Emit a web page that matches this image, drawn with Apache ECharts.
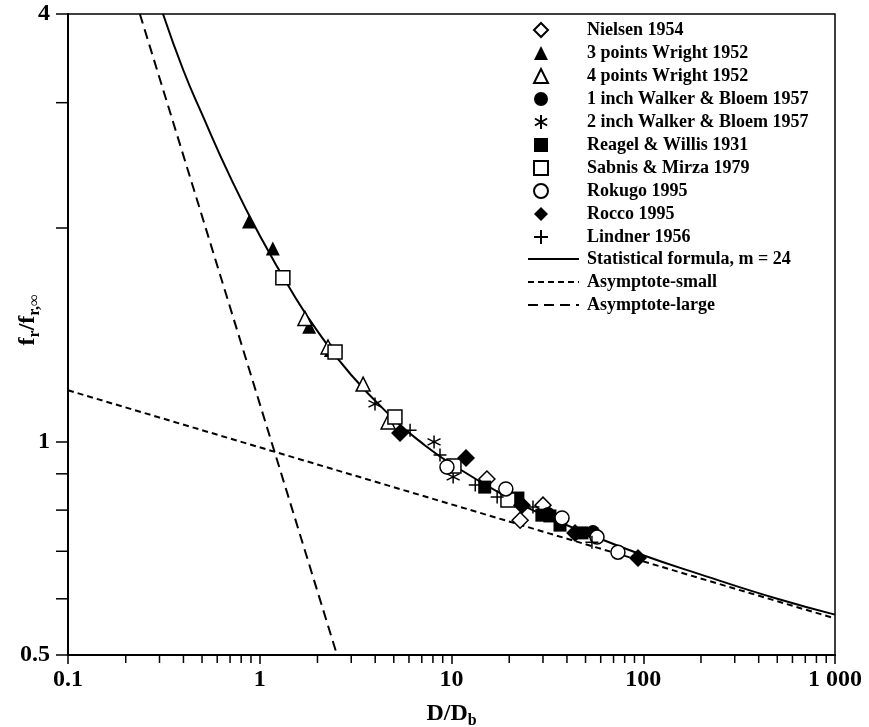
<!DOCTYPE html>
<html><head><meta charset="utf-8">
<script src="https://cdn.jsdelivr.net/npm/echarts@6/dist/echarts.min.js"></script>
<style>html,body{margin:0;padding:0;background:#fff}#c{width:869px;height:727px}</style>
</head><body><div id="c"></div>
<script>
// ---- data (D/Db, fr/fr,inf) ----
const nielsenD = [15.3, 22.8, 30.0];
const nielsenF = [0.885, 0.774, 0.813];
const wright3D = [0.879, 1.17, 1.81, 2.35];
const wright3F = [2.04, 1.87, 1.45, 1.345];
const wright4D = [1.72, 2.27, 3.46, 4.67];
const wright4F = [1.49, 1.358, 1.204, 1.065];
const walker1D = [31.9, 54.7];
const walker1F = [0.790, 0.745];
const walker2D = [3.99, 8.11, 10.2];
const walker2F = [1.129, 0.998, 0.891];
const reagelD = [14.9, 22.2, 29.6, 32.6, 36.8, 47.9];
const reagelF = [0.862, 0.832, 0.787, 0.785, 0.762, 0.743];
const sabnisD = [1.32, 2.47, 5.07, 10.3, 19.7];
const sabnisF = [1.70, 1.336, 1.082, 0.923, 0.827];
const rokugoD = [9.47, 19.2, 37.7, 57.4, 73.8];
const rokugoF = [0.920, 0.857, 0.780, 0.733, 0.698];
const roccoD = [5.39, 11.9, 23.3, 44.1, 93.9];
const roccoF = [1.027, 0.947, 0.813, 0.743, 0.685];
const lindnerD = [6.08, 8.71, 13.3, 17.3, 26.6, 54.0];
const lindnerF = [1.037, 0.957, 0.868, 0.835, 0.808, 0.721];

const statD = [0.313, 0.4, 0.5, 0.7, 1, 1.5, 2, 3, 5, 7, 10, 20, 30, 50, 100, 200, 500, 1000];
const statF = [4.0, 3.33, 2.89, 2.36, 1.95, 1.61, 1.43, 1.24, 1.075, 0.995, 0.929, 0.831, 0.788, 0.743, 0.691, 0.649, 0.600, 0.570];
const asymSmallD = [0.1, 1000];
const asymSmallF = [1.18, 0.563];
const asymLargeD = [0.237, 2.53];
const asymLargeF = [4.0, 0.5];

const xTickLabels = ['0.1', '1', '10', '100', '1 000'];
const yTickValues = [0.5, 1, 2, 4];
const yTickLabels = ['0.5', '1', '', '4'];
const xMinorTicks = [0.2,0.3,0.4,0.5,0.6,0.7,0.8,0.9, 2,3,4,5,6,7,8,9, 20,30,40,50,60,70,80,90, 200,300,400,500,600,700,800,900];
const yMinorTicks = [0.6, 0.7, 0.8, 0.9, 3];

const names = ['Nielsen 1954','3 points Wright 1952','4 points Wright 1952','1 inch Walker & Bloem 1957','2 inch Walker & Bloem 1957','Reagel & Willis 1931','Sabnis & Mirza 1979','Rokugo 1995','Rocco 1995','Lindner 1956'];
const lineNames = ['Statistical formula, m = 24','Asymptote-small','Asymptote-large'];

// ---- build ----
const FONT = "'Liberation Serif','Times New Roman',serif";
const pts = (d, f) => d.map((v, i) => [v, f[i]]);
const filled = {color:'#000', borderWidth:0, opacity:1};
const open = {color:'#fff', borderColor:'#000', borderWidth:1.5, opacity:1};
const stroke = {color:'#000', borderColor:'#000', borderWidth:1.5, opacity:1};
const ASTER = 'path://M5,0L5,10M0.67,2.5L9.33,7.5M0.67,7.5L9.33,2.5';
const PLUS = 'path://M5,0L5,10M0,5L10,5';

function sc(name, d, f, symbol, size, style) {
  return {type:'scatter', name, data: pts(d, f), symbol, symbolSize: size, itemStyle: style, z: 5, silent: true};
}

const series = [
  {type:'line', name: lineNames[0], data: pts(statD, statF), smooth: true, symbol:'none', showSymbol:false,
   lineStyle:{color:'#000', width:2, type:'solid'}, itemStyle:{color:'#000'}, z:3, silent:true},
  {type:'line', name: lineNames[1], data: pts(asymSmallD, asymSmallF), symbol:'none', showSymbol:false,
   lineStyle:{color:'#000', width:2, type:[6,4]}, itemStyle:{color:'#000'}, z:3, silent:true},
  {type:'line', name: lineNames[2], data: pts(asymLargeD, asymLargeF), symbol:'none', showSymbol:false,
   lineStyle:{color:'#000', width:2, type:[10,6]}, itemStyle:{color:'#000'}, z:3, silent:true},
  sc(names[0], nielsenD, nielsenF, 'diamond', 16, open),
  sc(names[1], wright3D, wright3F, 'triangle', 14, filled),
  sc(names[2], wright4D, wright4F, 'triangle', 14, open),
  sc(names[3], walker1D, walker1F, 'circle', 14, filled),
  sc(names[4], walker2D, walker2F, ASTER, 13, stroke),
  sc(names[5], reagelD, reagelF, 'rect', 13, filled),
  sc(names[6], sabnisD, sabnisF, 'rect', 14, open),
  sc(names[7], rokugoD, rokugoF, 'circle', 14, open),
  sc(names[8], roccoD, roccoF, 'diamond', 18, filled),
  sc(names[9], lindnerD, lindnerF, PLUS, 13, stroke),
  {type:'custom', name:'xminor', silent:true, clip:false, z:2,
   data: xMinorTicks.map(v => [v, 0.5]),
   renderItem: (p, api) => { const c = api.coord([api.value(0), api.value(1)]);
     return {type:'line', shape:{x1:c[0], y1:c[1], x2:c[0], y2:c[1]+8}, style:{stroke:'#000', lineWidth:1.5}}; }},
  {type:'custom', name:'yminor', silent:true, clip:false, z:2,
   data: yMinorTicks.map(v => [0.1, v]),
   renderItem: (p, api) => { const c = api.coord([api.value(0), api.value(1)]);
     return {type:'line', shape:{x1:c[0]-12, y1:c[1], x2:c[0], y2:c[1]}, style:{stroke:'#000', lineWidth:1.5}}; }}
];

const legendText = {fontFamily: FONT, fontSize: 18, fontWeight: 'bold', color: '#000', lineHeight: 18};
const option = {
  animation: false,
  backgroundColor: '#fff',
  grid: {left: 68, right: 34, top: 14, bottom: 72, containLabel: false, outerBoundsMode: 'none',
         show: true, borderColor: '#000', borderWidth: 1.5, backgroundColor: 'transparent'},
  legend: [
    {data: names, orient: 'vertical', left: 528, top: 16, itemWidth: 14, itemHeight: 14, itemGap: 5,
     selectedMode: false, textStyle: Object.assign({}, legendText, {padding: [0, 0, 0, 34]})},
    {data: lineNames, orient: 'vertical', left: 522, top: 245, itemWidth: 51, itemHeight: 14, itemGap: 5,
     selectedMode: false, itemStyle: {opacity: 0}, textStyle: Object.assign({}, legendText, {padding: [0, 0, 0, 3]})}
  ],
  xAxis: {
    type: 'log', logBase: 10, min: 0.1, max: 1000,
    axisLine: {lineStyle: {color: '#000', width: 2}},
    axisTick: {length: 9, lineStyle: {color: '#000', width: 1.5}},
    splitLine: {show: false},
    axisLabel: {margin: 13, fontFamily: FONT, fontSize: 24, fontWeight: 'bold', color: '#000',
      formatter: v => xTickLabels[Math.round(Math.log10(v)) + 1] || ''},
    name: '{a|D/D}{s|b}', nameLocation: 'middle', nameGap: 44,
    nameTextStyle: {rich: {a: {fontFamily: FONT, fontSize: 24, fontWeight: 'bold', color: '#000', lineHeight: 30},
                           s: {fontFamily: FONT, fontSize: 16, fontWeight: 'bold', color: '#000', lineHeight: 30, verticalAlign: 'bottom'}}}
  },
  yAxis: {
    type: 'log', logBase: 2, min: 0.5, max: 4,
    axisLine: {lineStyle: {color: '#000', width: 2}},
    axisTick: {length: 12, lineStyle: {color: '#000', width: 1.5}},
    splitLine: {show: false},
    axisLabel: {margin: 18, fontFamily: FONT, fontSize: 24, fontWeight: 'bold', color: '#000',
      formatter: v => { let i = yTickValues.findIndex(t => Math.abs(t - v) < 1e-6); return i >= 0 ? yTickLabels[i] : ''; }},
    name: '{a|f}{s|r}{a|/f}{s|r,\u221E}', nameLocation: 'middle', nameGap: 25, nameMoveOverlap: false,
    nameTextStyle: {padding: [0, 0, 0, 29], rich: {a: {fontFamily: FONT, fontSize: 24, fontWeight: 'bold', color: '#000', lineHeight: 30},
                           s: {fontFamily: FONT, fontSize: 16, fontWeight: 'bold', color: '#000', lineHeight: 30, verticalAlign: 'bottom'}}}
  },
  series
};
const chart = echarts.init(document.getElementById('c'), null, {renderer: 'canvas'});
chart.setOption(option);
</script>
</body></html>
